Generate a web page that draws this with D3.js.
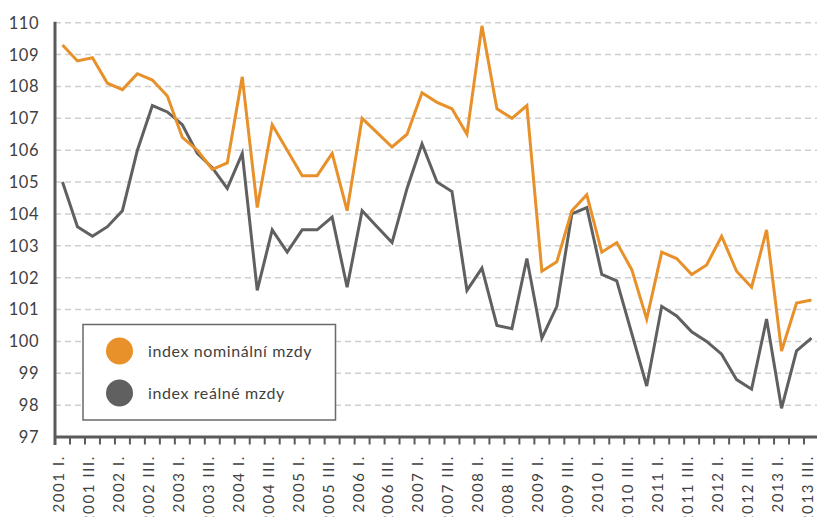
<!DOCTYPE html>
<html>
<head>
<meta charset="utf-8">
<script src="https://cdn.jsdelivr.net/npm/d3@7/dist/d3.min.js"></script>
<style>
  html, body { margin: 0; padding: 0; background: #fff; }
  svg { display: block; font-family: "Lato", "Open Sans", sans-serif; }
</style>
</head>
<body>
<svg id="chart" width="817" height="517"></svg>
<script>
const years = [2001, 2002, 2003, 2004, 2005, 2006, 2007, 2008, 2009, 2010, 2011, 2012, 2013];
const quarters = ["I.", "II.", "III.", "IV."];
const categories = years.flatMap(y => quarters.map(q => y + " " + q)).slice(0, 51);

const nominal = [109.3,108.8,108.9,108.1,107.9,108.4,108.2,107.7,106.4,106.0,105.4,105.6,108.3,104.2,106.8,106.0,105.2,105.2,105.9,104.1,107.0,106.55,106.1,106.5,107.8,107.5,107.3,106.5,109.9,107.3,107.0,107.4,102.2,102.5,104.1,104.6,102.8,103.1,102.25,100.7,102.8,102.6,102.1,102.4,103.3,102.2,101.7,103.5,99.7,101.2,101.3];
const real = [105.0,103.6,103.3,103.6,104.1,106.0,107.4,107.2,106.8,105.9,105.45,104.8,105.9,101.6,103.5,102.8,103.5,103.5,103.9,101.7,104.1,103.6,103.1,104.8,106.2,105.0,104.7,101.6,102.3,100.5,100.4,102.6,100.1,101.1,104.0,104.2,102.1,101.9,100.25,98.6,101.1,100.8,100.3,100.0,99.6,98.8,98.5,100.7,97.9,99.7,100.1];

const yTicks = [97, 98, 99, 100, 101, 102, 103, 104, 105, 106, 107, 108, 109, 110];
const xTickLabels = categories.filter((c, i) => i % 2 === 0);

const seriesNames = ["index nominální mzdy", "index reálné mzdy"];
const seriesColors = ["#E8912A", "#606060"];

(function () {
const svg = d3.select("#chart");
const mLeft = 55, mRight = 819, mTop = 22.7, mBottom = 437;

const x = d3.scaleBand().domain(categories).range([mLeft, mRight]).padding(0);
const y = d3.scaleLinear().domain([97, 110]).range([mBottom, mTop]);

// grid
svg.append("g").selectAll("line")
  .data(yTicks.filter(t => t > 97))
  .join("line")
  .attr("x1", mLeft).attr("x2", 817)
  .attr("y1", d => y(d)).attr("y2", d => y(d))
  .attr("stroke", "#cfcfcf").attr("stroke-width", 1.5)
  .attr("stroke-dasharray", "6,4");

// y labels
svg.append("g").selectAll("text")
  .data(yTicks)
  .join("text")
  .attr("x", 39).attr("y", d => y(d))
  .attr("dy", "0.36em")
  .attr("text-anchor", "end")
  .attr("fill", "#3f3f3f")
  .attr("font-size", 16.5)
  .attr("letter-spacing", 0.5)
  .text(d => d);

// x axis ticks at band boundaries
const boundaries = categories.map(c => x(c)).concat([mRight]);
svg.append("g").selectAll("line")
  .data(boundaries.slice(1))
  .join("line")
  .attr("x1", d => d).attr("x2", d => d)
  .attr("y1", mBottom).attr("y2", mBottom + 7.5)
  .attr("stroke", "#5a5a5a").attr("stroke-width", 2);

// x labels
svg.append("g").selectAll("text")
  .data(xTickLabels)
  .join("text")
  .attr("transform", d => `translate(${x(d) + x.bandwidth() / 2 - 4},455) rotate(-90)`)
  .attr("dy", "0.36em")
  .attr("text-anchor", "end")
  .attr("fill", "#3f3f3f")
  .attr("font-size", 15)
  .attr("letter-spacing", 1.6)
  .text(d => d);

// axes lines
svg.append("line").attr("x1", mLeft).attr("x2", 817).attr("y1", mBottom).attr("y2", mBottom)
  .attr("stroke", "#5a5a5a").attr("stroke-width", 3);
svg.append("line").attr("x1", mLeft).attr("x2", mLeft).attr("y1", mTop - 1).attr("y2", mBottom + 8)
  .attr("stroke", "#5a5a5a").attr("stroke-width", 3);

// lines
const line = d3.line()
  .x((d, i) => x(categories[i]) + x.bandwidth() / 2)
  .y(d => y(d));

[[real, 1], [nominal, 0]].forEach(([s, idx]) => {
  svg.append("path")
    .datum(s)
    .attr("d", line)
    .attr("fill", "none")
    .attr("stroke", seriesColors[idx])
    .attr("stroke-width", 3)
    .attr("stroke-linejoin", "miter");
});

// legend
const lg = svg.append("g");
lg.append("rect").attr("x", 83).attr("y", 324.5).attr("width", 252.5).attr("height", 95.5)
  .attr("fill", "#fff").attr("stroke", "#6a6a6a").attr("stroke-width", 1.5);
seriesNames.forEach((n, i) => {
  lg.append("circle").attr("cx", 119.5).attr("cy", 351 + i * 42).attr("r", 13.5)
    .attr("fill", seriesColors[i]);
  lg.append("text").attr("x", 148).attr("y", 351 + i * 42).attr("dy", "0.36em")
    .attr("font-size", 16).attr("letter-spacing", 0.6).attr("fill", "#3f3f3f").text(n);
});
})();
</script>
</body>
</html>
